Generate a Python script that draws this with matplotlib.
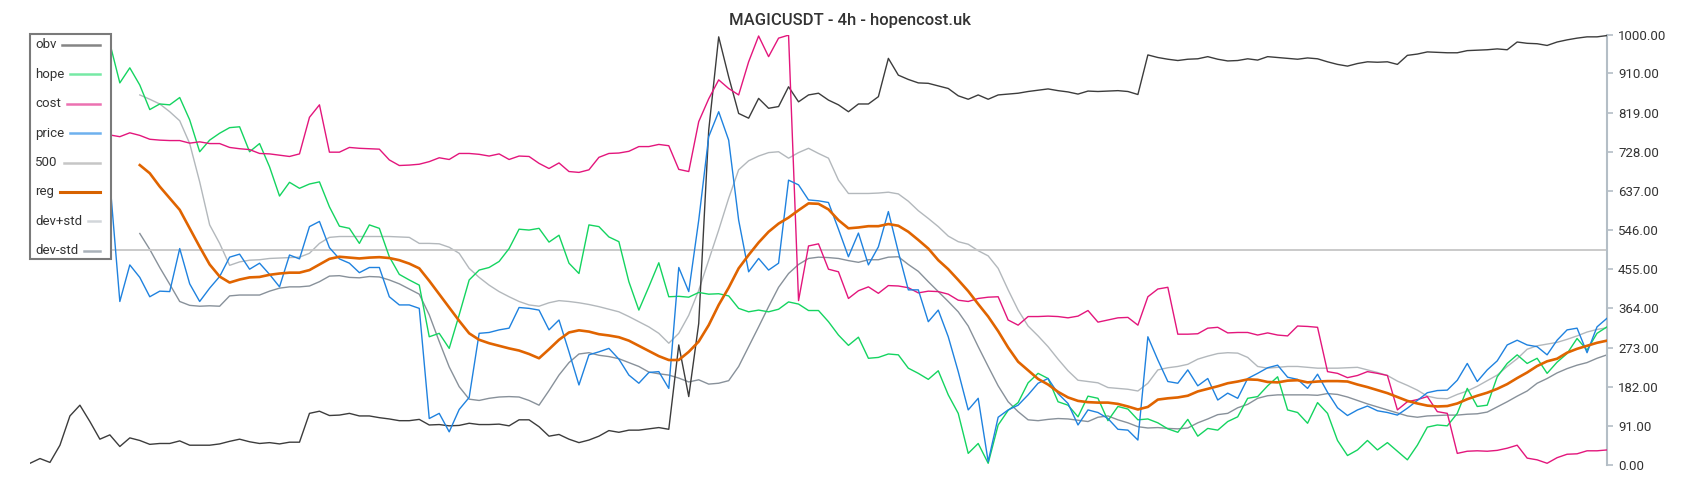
import numpy as np
import matplotlib
matplotlib.use("Agg")
import matplotlib.pyplot as plt
from matplotlib.patches import Rectangle
from matplotlib.lines import Line2D

plt.rcParams['font.family'] = ['Roboto', 'DejaVu Sans']

nan = np.nan

title = "MAGICUSDT - 4h - hopencost.uk"
series_names = ["obv", "hope", "cost", "price", "500", "reg", "dev+std", "dev-std"]
y_ticks = [0, 91, 182, 273, 364, 455, 546, 637, 728, 819, 910, 1000]
ref_level = 500

obv = [4, 15, 6, 46, 114, 139, 101, 60, 70, 43, 63, 57, 48, 50, 50, 56, 46, 46, 46, 49,
       55, 60, 54, 50, 52, 49, 53, 53, 120, 125, 115, 116, 120, 114, 114, 110, 107, 103, 103, 106,
       93, 94, 91, 92, 97, 94, 94, 95, 91, 105, 105, 89, 67, 71, 60, 52, 58, 67, 80, 76,
       81, 81, 84, 87, 83, 279, 159, 329, 778, 995, 902, 817, 806, 852, 829, 833, 879, 844, 860, 864,
       848, 837, 821, 839, 839, 856, 945, 906, 896, 888, 887, 881, 875, 858, 850, 860, 850, 860, 862, 864,
       868, 871, 874, 870, 867, 862, 869, 868, 869, 870, 868, 861, 953, 947, 943, 940, 943, 944, 949, 943,
       939, 940, 944, 941, 949, 947, 945, 943, 946, 944, 937, 931, 927, 933, 937, 936, 937, 931, 952, 955,
       960, 959, 958, 958, 963, 964, 965, 967, 965, 983, 980, 979, 975, 983, 988, 992, 995, 995, 998]

hope = [995, 990, 998, 985, 995, 990, 985, 988, 980, 888, 923, 883, 826, 839, 837, 854, 802, 728, 755, 771,
        784, 786, 728, 747, 693, 625, 657, 643, 653, 658, 600, 555, 550, 515, 558, 550, 484, 443, 430, 418,
        298, 306, 271, 349, 430, 453, 459, 473, 503, 548, 546, 550, 518, 534, 469, 445, 558, 554, 530, 519,
        426, 360, 414, 470, 391, 392, 390, 401, 397, 398, 393, 364, 356, 360, 356, 362, 379, 374, 359, 359,
        333, 302, 278, 297, 248, 250, 258, 256, 225, 213, 199, 219, 163, 120, 27, 50, 4, 93, 127, 145,
        191, 213, 201, 147, 139, 112, 160, 155, 103, 136, 130, 105, 107, 98, 84, 76, 106, 67, 85, 81,
        101, 112, 155, 159, 184, 205, 128, 122, 97, 145, 120, 57, 22, 35, 57, 35, 52, 32, 12, 46,
        88, 93, 91, 120, 178, 136, 139, 205, 236, 256, 236, 248, 213, 239, 259, 294, 267, 306, 321]

cost = [770, 770, 765, 770, 765, 768, 770, 768, 767, 763, 772, 766, 757, 755, 754, 754, 748, 751, 747, 747,
        738, 735, 733, 724, 723, 720, 717, 723, 808, 837, 727, 727, 738, 736, 735, 734, 709, 696, 697, 699,
        705, 714, 710, 724, 724, 722, 718, 723, 710, 718, 717, 701, 689, 702, 682, 680, 686, 715, 724, 725,
        729, 740, 740, 745, 742, 687, 682, 798, 851, 895, 875, 860, 937, 997, 949, 992, 999, 382, 509, 514,
        455, 449, 387, 405, 414, 399, 417, 416, 412, 400, 404, 403, 397, 383, 380, 387, 390, 391, 337, 325,
        345, 345, 346, 345, 342, 346, 359, 332, 337, 342, 343, 325, 391, 409, 413, 304, 304, 305, 318, 320,
        307, 308, 308, 302, 307, 302, 300, 323, 322, 320, 217, 213, 203, 208, 217, 213, 208, 128, 147, 152,
        159, 124, 120, 27, 32, 33, 32, 34, 39, 46, 16, 12, 4, 17, 25, 26, 33, 33, 35]

price = [720, 710, 730, 700, 715, 705, 690, 700, 660, 380, 465, 436, 391, 404, 403, 503, 421, 380, 411, 438,
         483, 490, 455, 469, 443, 414, 488, 479, 554, 566, 505, 479, 469, 447, 459, 459, 391, 372, 372, 364,
         108, 120, 77, 129, 157, 306, 308, 314, 318, 366, 364, 360, 314, 337, 263, 186, 256, 263, 271, 246,
         209, 190, 215, 217, 178, 459, 403, 569, 763, 821, 755, 569, 449, 480, 453, 469, 662, 651, 616, 614,
         610, 548, 484, 539, 465, 507, 589, 495, 407, 407, 333, 360, 298, 217, 128, 155, 8, 111, 128, 139,
         163, 190, 201, 166, 143, 93, 128, 122, 108, 83, 81, 58, 298, 244, 194, 190, 221, 184, 201, 151,
         167, 155, 201, 213, 226, 232, 204, 199, 178, 211, 169, 133, 115, 128, 137, 126, 122, 116, 132, 150,
         168, 173, 174, 197, 236, 194, 221, 242, 279, 290, 279, 275, 256, 290, 314, 318, 261, 321, 341]

reg = [nan, nan, nan, nan, nan, nan, nan, nan, nan, nan, nan,
       697, 678, 647, 620, 593, 550, 507, 466, 438, 424, 431, 436, 437, 442, 445, 447, 447, 453, 466,
       479, 484, 482, 480, 482, 483, 481, 476, 468, 457,
       428, 397, 366, 335, 306, 291, 283, 277, 271, 266, 258, 248, 269, 291, 308, 313, 310, 304, 301, 297,
       289, 277, 265, 253, 244, 244, 263, 287, 325, 372, 412, 457, 488, 517, 542, 561, 575, 592, 608, 607,
       594, 569, 550, 552, 555, 555, 560, 556, 542, 523, 503, 476, 455, 430, 404, 374, 345, 311, 273, 240,
       220, 200, 187, 170, 157, 149, 146, 145, 145, 142, 136, 129, 135, 152, 155, 157, 161, 171, 177, 183,
       190, 194, 199, 198, 193, 192, 196, 197, 192, 194, 195, 195, 194, 187, 181, 174, 167, 158, 149, 143,
       138, 136, 137, 143, 153, 161, 168, 177, 188, 202, 215, 230, 241, 247, 261, 270, 277, 284, 289]

dev_plus = [nan, nan, nan, nan, nan, nan, nan, nan, nan, nan, nan,
            860, 850, 839, 821, 800, 747, 658, 558, 515, 464, 472, 476, 477, 480, 481, 482, 483, 492, 515,
            529, 531, 531, 531, 531, 531, 531, 530, 529, 515,
            515, 514, 506, 492, 457, 436, 418, 403, 391, 380, 372, 369, 377, 382, 380, 377, 373, 368, 362, 356,
            345, 333, 321, 306, 283, 306, 348, 406, 476, 546, 620, 686, 707, 718, 726, 728, 713, 726, 736, 724,
            713, 662, 631, 631, 631, 632, 634, 630, 613, 591, 573, 554, 532, 519, 513, 498, 486, 457, 407, 360,
            323, 300, 275, 246, 219, 197, 194, 191, 180, 178, 176, 172, 190, 221, 226, 229, 234, 246, 253, 259,
            261, 260, 250, 229, 225, 227, 229, 229, 227, 225, 225, 225, 226, 227, 221, 215, 208, 195, 185, 174,
            160, 155, 154, 164, 172, 183, 196, 209, 229, 247, 269, 277, 281, 285, 292, 300, 309, 315, 319]

dev_minus = [nan, nan, nan, nan, nan, nan, nan, nan, nan, nan, nan,
             538, 501, 459, 420, 380, 371, 369, 370, 369, 393, 395, 395, 395, 404, 411, 414, 414, 416, 426,
             439, 440, 436, 435, 438, 437, 430, 421, 409, 397,
             349, 287, 228, 182, 153, 150, 155, 158, 159, 158, 150, 139, 173, 209, 238, 258, 261, 255, 252, 247,
             238, 229, 216, 212, 209, 202, 193, 198, 188, 190, 196, 229, 275, 321, 368, 413, 445, 466, 480, 483,
             482, 480, 475, 471, 477, 477, 483, 484, 466, 450, 426, 403, 380, 356, 323, 275, 229, 184, 147, 124,
             105, 103, 106, 108, 107, 104, 101, 111, 114, 105, 98, 89, 86, 87, 85, 84, 86, 98, 107, 117,
             120, 133, 141, 155, 161, 163, 163, 163, 163, 162, 166, 164, 158, 150, 142, 135, 128, 121, 114, 111,
             114, 115, 116, 116, 118, 119, 123, 135, 147, 160, 172, 190, 201, 214, 224, 232, 238, 248, 256]

N = len(price)
x = np.arange(N)

W, H = 1700, 500
fig = plt.figure(figsize=(W / 100, H / 100), dpi=100)
ax = fig.add_axes([30 / W, 35 / H, 1577 / W, 430.3 / H])

line_colors = {"obv": "#3c3c3c", "hope": "#14d460", "cost": "#e3167c", "price": "#1f82df",
               "500": "#c6c6c6", "reg": "#e06400", "dev+std": "#b3b8bc", "dev-std": "#88919a"}
legend_colors = {"obv": "#858585", "hope": "#76e9a5", "cost": "#ec71b1", "price": "#6eb1ee",
                 "500": "#c6c6c6", "reg": "#d76200", "dev+std": "#d2d6da", "dev-std": "#a9b1b9"}

ax.plot(x, dev_plus, color=line_colors["dev+std"], lw=1.0, zorder=2)
ax.plot(x, dev_minus, color=line_colors["dev-std"], lw=1.0, zorder=2)
ax.axhline(ref_level, color=line_colors["500"], lw=1.3, zorder=2)
ax.plot(x, obv, color=line_colors["obv"], lw=1.0, zorder=3)
ax.plot(x, hope, color=line_colors["hope"], lw=1.0, zorder=3)
ax.plot(x, cost, color=line_colors["cost"], lw=1.0, zorder=3)
ax.plot(x, price, color=line_colors["price"], lw=1.0, zorder=3)
ax.plot(x, reg, color=line_colors["reg"], lw=1.9, zorder=4)

ax.set_xlim(0, N - 1)
ax.set_ylim(0, 1000)
for s in ["top", "left", "bottom"]:
    ax.spines[s].set_visible(False)
ax.spines["right"].set_color("#b4bec6")
ax.spines["right"].set_linewidth(1.5)
ax.set_xticks([])
ax.yaxis.tick_right()
ax.set_yticks(y_ticks)
ax.set_yticklabels([f"{v:.2f}" for v in y_ticks])
ax.tick_params(axis="y", length=4, width=1.2, color="#b4bec6", labelsize=9.5,
               labelcolor="#333333", pad=4)
ax.patch.set_alpha(0)

fig.text(0.5, 1 - 21 / H, title, ha="center", va="center", fontsize=12,
         color="#333333", fontweight="medium")

# legend box (drawn manually, opaque)
box = Rectangle((30 / W, 1 - 259 / H), 81 / W, 225 / H, transform=fig.transFigure,
                facecolor="white", edgecolor="#7a7a7a", lw=1.5, zorder=10)
fig.patches.append(box)
texts = []
for i, name in enumerate(series_names):
    yp = 45 + i * 29.4
    t = fig.text(35 / W, 1 - yp / H, name, ha="left", va="center", fontsize=9.5,
                 color="#333333", zorder=11)
    texts.append((t, yp, name))
fig.canvas.draw()
for t, yp, name in texts:
    ext = t.get_window_extent()
    x0 = ext.x1 + 6
    lw = 2.2 if name == "reg" else 1.8
    fig.lines.append(Line2D([x0 / W, 100 / W], [1 - yp / H, 1 - yp / H], transform=fig.transFigure,
                            color=legend_colors[name], lw=lw, zorder=11))

fig.savefig("out.png", dpi=100)
